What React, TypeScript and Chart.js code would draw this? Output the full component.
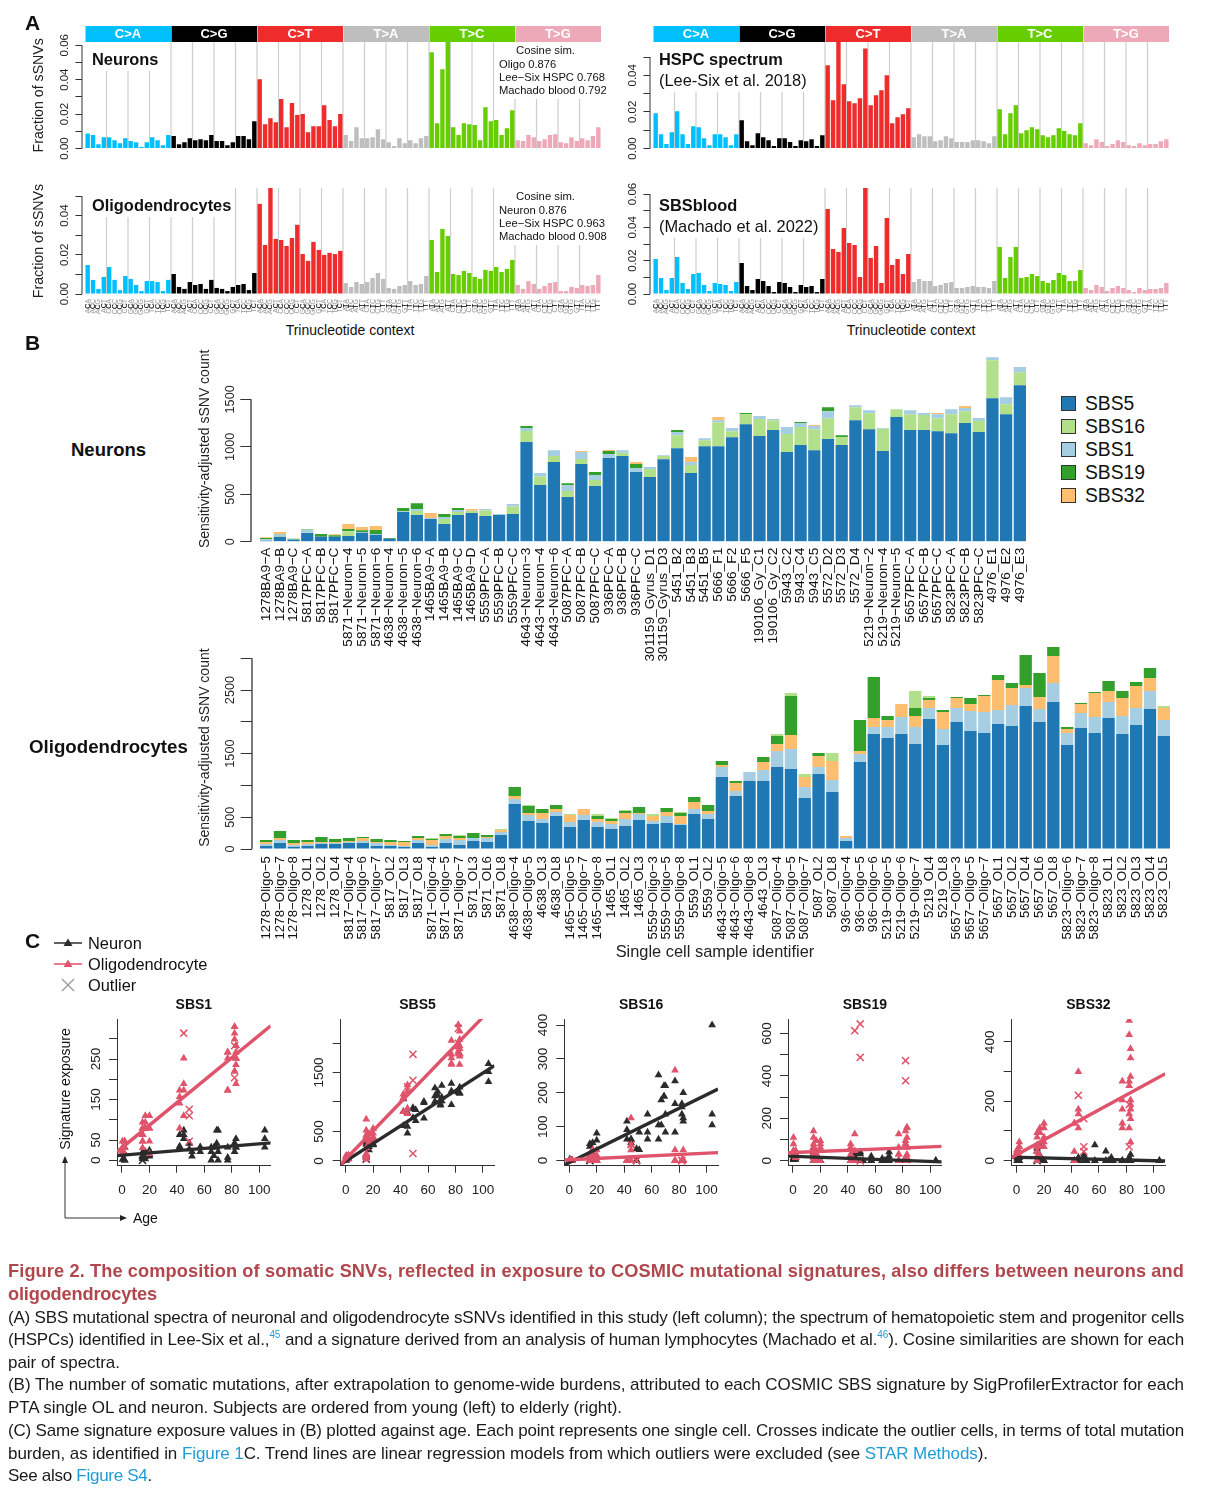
import React, { useEffect, useRef } from 'react';
import { Chart, registerables } from 'chart.js';

Chart.register(...registerables);
const FONT = '"Liberation Sans", Arial, sans-serif';
Chart.defaults.font.family = FONT;
Chart.defaults.color = '#222';

// ---------- Panel A data ----------
const bases = ['A', 'C', 'G', 'T'];
const substitutions = ['C>A', 'C>G', 'C>T', 'T>A', 'T>C', 'T>G'];
const substitutionColors = ['#00BFFF', '#000000', '#EE2C2C', '#BEBEBE', '#66CD00', '#EEA9B8'];
const trinucleotides: string[] = [];
substitutions.forEach((s) => bases.forEach((a) => bases.forEach((b) => trinucleotides.push(a + s[0] + b))));

const neuronSpectrum = [
  .0087, .0078, .0025, .0066, .0066, .0048, .0031, .006, .0043, .0037, .0008, .0037, .0066, .0048, .0019, .0078,
  .0072, .0025, .0037, .006, .0048, .0054, .0048, .0078, .0043, .0043, .0019, .0037, .0072, .0072, .0054, .0159,
  .0403, .0141, .0176, .0153, .0287, .0124, .0264, .0194, .02, .0095, .013, .013, .0252, .0165, .013, .02,
  .0078, .0043, .0124, .006, .006, .0066, .0112, .0054, .0037, .0014, .006, .0031, .0048, .0031, .006, .0072,
  .056, .0147, .0461, .063, .0124, .0078, .0147, .0141, .0136, .0048, .024, .0159, .0165, .0078, .0118, .0223,
  .0048, .0043, .0078, .0066, .0043, .0054, .0078, .0083, .0037, .0031, .0066, .0043, .006, .0048, .0072, .0124,
];
const oligoSpectrum = [
  .0148, .0072, .0026, .0087, .0138, .0072, .002, .0092, .0077, .0046, .0015, .0066, .0066, .0061, .0015, .0072,
  .0102, .0036, .0026, .0061, .0046, .0051, .0026, .0072, .0031, .0026, .0015, .0036, .0046, .0051, .002, .0107,
  .046, .025, .0542, .0281, .0276, .0245, .0286, .0353, .0204, .0169, .0266, .0225, .0199, .021, .0204, .022,
  .0056, .0036, .0061, .0051, .0061, .0082, .0107, .0077, .0031, .0026, .0041, .0046, .0066, .0046, .0051, .0092,
  .0276, .0112, .0332, .0296, .0102, .0097, .0118, .0107, .0087, .0077, .0123, .0118, .0138, .0112, .0128, .0174,
  .0046, .0026, .0066, .0051, .0026, .0041, .0056, .0061, .0015, .0015, .0036, .0031, .0046, .0041, .0046, .0097,
];
const hspcSpectrum = [
  .0193, .0078, .0024, .0089, .0204, .0078, .0024, .0122, .0116, .0056, .0018, .0078, .0078, .0062, .0018, .0078,
  .0155, .004, .0018, .0084, .0062, .0045, .0013, .0056, .0056, .0035, .0013, .0045, .004, .0051, .0013, .0073,
  .0455, .0264, .0582, .0351, .0258, .0247, .0275, .0547, .0236, .0291, .0318, .04, .0138, .0171, .0187, .022,
  .0062, .0078, .0067, .0067, .004, .0045, .0067, .0056, .0035, .0035, .0035, .0045, .0045, .004, .0029, .0067,
  .0215, .0078, .0193, .0236, .0084, .01, .0116, .0105, .0073, .0062, .0073, .0111, .0095, .0078, .0073, .0138,
  .0029, .0018, .0051, .0035, .0013, .0024, .0045, .0035, .0018, .0013, .0029, .0018, .0024, .0024, .004, .0051,
];
const bloodSpectrum = [
  .021, .0096, .0024, .0096, .0222, .0066, .003, .012, .0126, .0054, .0018, .0066, .006, .0054, .0018, .0072,
  .0186, .0048, .0024, .009, .0078, .0048, .0012, .0072, .0066, .0042, .0012, .0054, .0042, .0048, .0012, .009,
  .051, .027, .0252, .0396, .0306, .0294, .0102, .064, .0216, .0288, .0066, .0456, .0174, .021, .012, .024,
  .0072, .009, .0078, .0078, .0048, .0054, .0066, .0072, .0036, .0036, .0042, .0048, .0042, .0042, .0036, .0078,
  .0282, .0096, .0222, .0282, .0096, .0102, .012, .0108, .0078, .0066, .0084, .0126, .0114, .0078, .0078, .0144,
  .0036, .0024, .0054, .0042, .0018, .0036, .0048, .0036, .0024, .0012, .0036, .0024, .003, .003, .0036, .0066,
];

// ---------- Panel B data ----------
const neuronSamples = [
  '1278BA9−A', '1278BA9−B', '1278BA9−C', '5817PFC−A', '5817PFC−B', '5817PFC−C', '5871−Neuron−4', '5871−Neuron−5', '5871−Neuron−6',
  '4638−Neuron−4', '4638−Neuron−5', '4638−Neuron−6', '1465BA9−A', '1465BA9−B', '1465BA9−C', '1465BA9−D', '5559PFC−A', '5559PFC−B', '5559PFC−C',
  '4643−Neuron−3', '4643−Neuron−4', '4643−Neuron−6', '5087PFC−A', '5087PFC−B', '5087PFC−C', '936PFC−A', '936PFC−B', '936PFC−C',
  '301159_Gyrus_D1', '301159_Gyrus_D3', '5451_B2', '5451_B3', '5451_B5', '5666_F1', '5666_F2', '5666_F5', '190106_Gy_C1', '190106_Gy_C2',
  '5943_C2', '5943_C4', '5943_C5', '5572_D2', '5572_D3', '5572_D4', '5219−Neuron−2', '5219−Neuron−4', '5219−Neuron−5',
  '5657PFC−A', '5657PFC−B', '5657PFC−C', '5823PFC−A', '5823PFC−B', '5823PFC−C', '4976_E1', '4976_E2', '4976_E3',
];
const neuronAges = [
  .4, .4, .4, 2, 2, 2, 15, 15, 15, 15, 15, 15, 17, 17, 17, 17, 20, 20, 20, 42, 42, 42, 45, 45, 45, 49, 49, 49, 51, 51,
  57, 57, 57, 65, 65, 65, 67, 67, 69, 69, 69, 70, 70, 70, 77, 77, 77, 82, 82, 82, 83, 83, 83, 104, 104, 104,
];
const neuronSBS5 = [10, 52, 20, 92, 52, 52, 60, 95, 73, 32, 312, 281, 240, 186, 281, 302, 270, 281, 291, 1050, 597, 839, 470, 818, 586, 881, 902, 734, 681, 870, 986, 723, 1007, 1007, 1102, 1239, 1113, 1176, 944, 1018, 965, 1081, 1018, 1281, 1186, 955, 1313, 1176, 1176, 1165, 1144, 1250, 1155, 1513, 1344, 1650];
const neuronSBS16 = [0, 5, 0, 2, 0, 0, 50, 0, 0, 0, 0, 42, 0, 53, 32, 21, 60, 0, 81, 116, 91, 63, 63, 53, 63, 0, 35, 0, 84, 32, 137, 84, 63, 253, 63, 105, 179, 105, 190, 190, 221, 221, 84, 137, 168, 235, 84, 168, 158, 137, 200, 126, 116, 400, 105, 137];
const neuronSBS1 = [15, 20, 2, 32, 0, 0, 4, 8, 8, 0, 10, 20, 10, 20, 21, 3, 14, 10, 25, 32, 35, 63, 63, 74, 53, 42, 28, 42, 21, 10, 32, 32, 21, 21, 32, 0, 32, 11, 74, 42, 32, 74, 0, 21, 32, 7, 0, 42, 21, 42, 53, 32, 32, 32, 74, 53];
const neuronSBS19 = [15, 5, 10, 6, 30, 17, 20, 18, 42, 8, 32, 63, 0, 32, 21, 0, 0, 0, 0, 21, 0, 0, 21, 0, 32, 32, 0, 42, 0, 0, 21, 0, 0, 0, 0, 11, 0, 0, 0, 11, 0, 42, 21, 0, 0, 0, 0, 0, 0, 0, 0, 0, 0, 0, 0, 0];
const neuronSBS32 = [8, 20, 0, 0, 0, 10, 52, 33, 42, 0, 0, 0, 53, 0, 0, 18, 0, 0, 0, 0, 0, 0, 0, 11, 0, 11, 0, 21, 0, 0, 0, 53, 0, 32, 0, 0, 0, 0, 0, 0, 11, 0, 0, 0, 0, 0, 0, 0, 0, 11, 0, 21, 0, 0, 0, 0];

const oligoSamples = [
  '1278−Oligo−5', '1278−Oligo−7', '1278−Oligo−8', '1278_OL1', '1278_OL2', '1278_OL4', '5817−Oligo−4', '5817−Oligo−6', '5817−Oligo−7', '5817_OL2', '5817_OL3', '5817_OL8',
  '5871−Oligo−4', '5871−Oligo−5', '5871−Oligo−7', '5871_OL3', '5871_OL6', '5871_OL8', '4638−Oligo−4', '4638−Oligo−5', '4638_OL3', '4638_OL8',
  '1465−Oligo−5', '1465−Oligo−7', '1465−Oligo−8', '1465_OL1', '1465_OL2', '1465_OL3', '5559−Oligo−3', '5559−Oligo−5', '5559−Oligo−8', '5559_OL1', '5559_OL2',
  '4643−Oligo−5', '4643−Oligo−6', '4643−Oligo−8', '4643_OL3', '5087−Oligo−4', '5087−Oligo−5', '5087−Oligo−7', '5087_OL2', '5087_OL8', '936−Oligo−4', '936−Oligo−5', '936−Oligo−6',
  '5219−Oligo−5', '5219−Oligo−6', '5219−Oligo−7', '5219_OL4', '5219_OL8', '5657−Oligo−3', '5657−Oligo−5', '5657−Oligo−7', '5657_OL1', '5657_OL2', '5657_OL4', '5657_OL6', '5657_OL8',
  '5823−Oligo−6', '5823−Oligo−7', '5823−Oligo−8', '5823_OL1', '5823_OL2', '5823_OL3', '5823_OL4', '5823_OL5',
];
const oligoAges = [
  .4, .4, .4, .4, .4, .4, 2, 2, 2, 2, 2, 2, 15, 15, 15, 15, 15, 15, 15, 15, 15, 15, 17, 17, 17, 17, 17, 17, 20, 20, 20, 20, 20,
  42, 42, 42, 42, 45, 45, 45, 45, 45, 49, 49, 49, 77, 77, 77, 77, 77, 82, 82, 82, 82, 82, 82, 82, 82, 83, 83, 83, 83, 83, 83, 83, 83,
];
const oligoSBS5 = [47, 94, 37, 47, 79, 79, 94, 94, 47, 47, 31, 94, 31, 94, 63, 126, 110, 220, 707, 440, 409, 519, 346, 456, 346, 314, 362, 456, 393, 409, 377, 550, 472, 1132, 833, 1069, 1069, 1289, 1258, 802, 1179, 896, 126, 1368, 1808, 1745, 1808, 1651, 2044, 1635, 1996, 1855, 1824, 1965, 1933, 2248, 1996, 2311, 1635, 1902, 1824, 2059, 1808, 1949, 2201, 1776];
const oligoSBS1 = [31, 47, 21, 31, 16, 16, 16, 31, 47, 16, 16, 47, 31, 63, 79, 47, 63, 47, 79, 94, 63, 63, 79, 79, 79, 79, 110, 94, 47, 110, 16, 79, 79, 157, 79, 141, 173, 252, 314, 173, 110, 189, 47, 126, 110, 173, 267, 267, 173, 252, 220, 314, 330, 220, 330, 283, 204, 299, 189, 236, 252, 252, 283, 267, 283, 252];
const oligoSBS32 = [31, 31, 37, 31, 16, 16, 16, 47, 16, 47, 63, 31, 79, 47, 31, 0, 16, 31, 47, 31, 94, 47, 110, 94, 47, 47, 94, 16, 79, 63, 126, 110, 47, 31, 126, 0, 126, 110, 220, 157, 173, 299, 31, 47, 141, 110, 204, 173, 126, 267, 157, 110, 252, 472, 267, 47, 189, 424, 63, 141, 377, 173, 283, 346, 204, 189];
const oligoSBS19 = [31, 110, 47, 31, 79, 47, 47, 16, 47, 31, 16, 31, 16, 31, 31, 79, 31, 0, 141, 110, 63, 63, 0, 0, 47, 31, 31, 94, 0, 63, 47, 79, 94, 63, 31, 0, 79, 126, 613, 0, 47, 0, 0, 487, 645, 63, 0, 126, 31, 31, 16, 94, 16, 79, 79, 472, 377, 141, 31, 16, 16, 157, 110, 63, 157, 0];
const oligoSBS16 = [0, 0, 0, 0, 0, 0, 0, 0, 0, 0, 0, 0, 16, 0, 16, 0, 0, 16, 0, 16, 0, 0, 16, 0, 31, 16, 16, 0, 31, 0, 16, 0, 0, 0, 0, 0, 0, 31, 47, 47, 0, 126, 0, 0, 0, 0, 0, 267, 31, 0, 0, 0, 0, 0, 0, 0, 0, 0, 0, 0, 0, 0, 0, 0, 0, 31];

const neuronOutliers = ['4638−Neuron−4'];
const oligoOutliers = ['5087−Oligo−5', '936−Oligo−4', '936−Oligo−5', '936−Oligo−6', '5657_OL4', '5657_OL6'];

const sigColors: Record<string, string> = { SBS5: '#1f78b4', SBS16: '#b2df8a', SBS1: '#a6cee3', SBS19: '#33a02c', SBS32: '#fdbf6f' };
const legendSignatures = ['SBS5', 'SBS16', 'SBS1', 'SBS19', 'SBS32'];

// ---------- Panel C data ----------
const ageTicks = [0, 20, 40, 60, 80, 100];
const trendXRange = [-3.6, 108.3];
const trendNeuron: Record<string, number[]> = { SBS1: [11.5, 43], SBS5: [-56, 1616], SBS16: [-13, 211], SBS19: [22, -5], SBS32: [12, -1] };
const trendOligo: Record<string, number[]> = { SBS1: [21, 332], SBS5: [-56, 2640], SBS16: [2, 23.6], SBS19: [38, 68], SBS32: [11, 293] };

const AXIS = '#333';
const measureCtx = document.createElement('canvas').getContext('2d')!;
function widthOf(text: string, size: number) {
  measureCtx.font = `${size}px ${FONT}`;
  return measureCtx.measureText(text).width;
}

function rY(o: any) {
  const fmt = o.fmt || String;
  const widest = Math.max(...o.labelled.map((v: number) => widthOf(fmt(v), o.fontSize)));
  return {
    type: 'linear', position: 'left', min: o.min ?? 0, max: o.max,
    afterBuildTicks: (s: any) => { s.ticks = o.tickValues.map((value: number) => ({ value })); },
    afterFit: (s: any) => { s.width = o.axisWidth; s.paddingTop = 0; s.paddingBottom = 0; },
    ticks: {
      autoSkip: false, minRotation: 90, maxRotation: 90, crossAlign: 'center', color: '#222',
      padding: o.labelDist - o.tickLen - widest / 2, font: { size: o.fontSize },
      callback: (v: number) => (o.labelled.includes(v) ? fmt(v) : ''),
    },
    grid: { drawOnChartArea: false, drawTicks: true, tickLength: o.tickLen, color: AXIS },
    border: o.border ? { display: true, color: AXIS, width: 1 } : { display: false },
    title: o.title ? { display: true, text: o.title, padding: 0, color: '#222', font: { size: o.titleSize } } : { display: false },
  };
}

// R-style axis: y axis pulled left of the bars, line only from first to last tick
const rAxisPlugin = {
  id: 'rAxis',
  afterLayout(chart: any, _a: any, opts: any) { if (opts.gap) chart.scales.y.right -= opts.gap; },
  afterDraw(chart: any, _a: any, opts: any) {
    if (!opts.gap) return;
    const y = chart.scales.y;
    const vals = y.ticks.map((t: any) => y.getPixelForValue(t.value));
    const ctx = chart.ctx;
    ctx.save();
    ctx.strokeStyle = AXIS;
    ctx.lineWidth = opts.lineWidth || 1;
    ctx.beginPath();
    ctx.moveTo(Math.round(y.right) + .0, Math.min(...vals));
    ctx.lineTo(Math.round(y.right) + .0, Math.max(...vals));
    ctx.stroke();
    ctx.restore();
  },
};

const spectrumPlugin = {
  id: 'spectrum',
  beforeDatasetsDraw(chart: any, _a: any, opts: any) {
    const { ctx, scales: { x }, chartArea: area } = chart;
    ctx.save();
    ctx.strokeStyle = '#cdcdcd';
    ctx.lineWidth = 1.2;
    for (let i = 4; i < 96; i += 4) {
      const px = x.getPixelForValue(i - .5);
      ctx.beginPath();
      ctx.moveTo(px, area.top);
      ctx.lineTo(px, area.bottom);
      ctx.stroke();
    }
    ctx.fillStyle = '#fff';
    (opts.masks || []).forEach((m: number[]) => ctx.fillRect(m[0] - opts.originX, m[1] - opts.originY, m[2] - m[0], m[3] - m[1]));
    ctx.restore();
  },
  afterDraw(chart: any, _a: any, opts: any) {
    const { ctx, scales: { x } } = chart;
    ctx.save();
    if (opts.bandY) {
      substitutions.forEach((name, i) => {
        const x0 = x.getPixelForValue(i * 16 - .5);
        const x1 = x.getPixelForValue(i * 16 + 15.5);
        ctx.fillStyle = substitutionColors[i];
        ctx.fillRect(x0 + .5, opts.bandY[0] - opts.originY, x1 - x0 - .5, opts.bandY[1] - opts.bandY[0]);
        ctx.fillStyle = '#fff';
        ctx.font = `bold 13px ${FONT}`;
        ctx.textAlign = 'center';
        ctx.textBaseline = 'middle';
        ctx.fillText(name, (x0 + x1) / 2, (opts.bandY[0] + opts.bandY[1]) / 2 - opts.originY + .5);
      });
    }
    if (opts.showLabels) {
      // central base of each trinucleotide in black, over the grey tick label
      ctx.font = `${opts.labelSize}px ${FONT}`;
      ctx.textAlign = 'right';
      ctx.textBaseline = 'middle';
      ctx.fillStyle = '#111';
      x.ticks.forEach((t: any, i: number) => {
        const lab = trinucleotides[i];
        ctx.save();
        ctx.translate(x.getPixelForValue(i), x.top + opts.labelPad);
        ctx.rotate(-Math.PI / 2);
        ctx.fillText(lab[1], -ctx.measureText(lab[2]).width, 0);
        ctx.restore();
      });
    }
    ctx.restore();
  },
};

function spectrumConfig(o: any) {
  const labelSize = 7;
  const labelPad = 5;
  return {
    type: 'bar',
    data: {
      labels: trinucleotides,
      datasets: [{
        data: o.values,
        backgroundColor: trinucleotides.map((_, i) => substitutionColors[Math.floor(i / 16)]),
        barPercentage: .82, categoryPercentage: 1,
      }],
    },
    plugins: [rAxisPlugin, spectrumPlugin],
    options: {
      animation: false, responsive: false, devicePixelRatio: 1,
      layout: { padding: { top: o.areaTop - o.top, right: o.left + o.width - o.areaRight, left: 0, bottom: 0 } },
      plugins: {
        legend: { display: false }, tooltip: { enabled: false },
        rAxis: { gap: 3.5 },
        spectrum: { masks: o.masks, originX: o.left, originY: o.top, bandY: o.bandY, showLabels: o.showLabels, labelSize, labelPad },
      },
      scales: {
        x: {
          type: 'category', offset: true,
          afterFit: (s: any) => { s.height = o.top + o.height - o.areaBottom; s.paddingLeft = 0; s.paddingRight = 0; },
          grid: { display: false, drawTicks: false }, border: { display: false },
          ticks: {
            display: !!o.showLabels, autoSkip: false, minRotation: 90, maxRotation: 90,
            padding: labelPad, color: '#9a9a9a', font: { size: labelSize },
          },
        },
        y: rY({
          max: o.max, tickValues: o.ticks, labelled: o.labelled, fmt: (v: number) => v.toFixed(2), fontSize: 11.5,
          tickLen: 6, labelDist: 17, axisWidth: o.areaLeft - o.left, title: o.title, titleSize: 14.2,
        }),
      },
    },
  };
}

function stackedConfig(o: any) {
  return {
    type: 'bar',
    data: {
      labels: o.labels,
      datasets: o.series.map((s: any) => ({
        label: s.name, data: s.values, backgroundColor: sigColors[s.name], barPercentage: .895, categoryPercentage: 1,
      })),
    },
    plugins: [rAxisPlugin],
    options: {
      animation: false, responsive: false, devicePixelRatio: 1,
      layout: { padding: { top: o.areaTop - o.top, right: o.left + o.width - o.areaRight, left: 0, bottom: 0 } },
      plugins: { legend: { display: false }, tooltip: { enabled: false }, rAxis: { gap: o.gap, lineWidth: 1.3 } },
      scales: {
        x: {
          type: 'category', offset: true, stacked: true,
          afterFit: (s: any) => { s.height = o.top + o.height - o.areaBottom; s.paddingLeft = 0; s.paddingRight = 0; },
          grid: { display: false, drawTicks: false }, border: { display: false },
          ticks: { autoSkip: false, minRotation: 90, maxRotation: 90, padding: o.labelPad, color: '#111', font: { size: o.labelSize } },
          title: o.xTitle ? { display: true, text: o.xTitle, padding: 0, color: '#222', font: { size: 16.4 } } : { display: false },
        },
        y: {
          ...rY({
            max: o.max, tickValues: o.ticks, labelled: o.labelled, fontSize: 12.7, tickLen: 11, labelDist: 21,
            axisWidth: o.areaLeft - o.left, title: 'Sensitivity-adjusted sSNV count', titleSize: 14,
          }),
          stacked: true,
        },
      },
    },
  };
}

function pick(ages: number[], vals: number[], samples: string[], outliers: string[], wantOutlier: boolean) {
  const out: { x: number; y: number }[] = [];
  samples.forEach((s, i) => {
    if (outliers.includes(s) === wantOutlier) out.push({ x: ages[i], y: vals[i] });
  });
  return out;
}

const NEURON = '#2b2b2b';
const OLIGO = '#df536b';

function scatterConfig(o: any) {
  const nVals = o.neuronValues;
  const oVals = o.oligoValues;
  const tri = (data: any, color: string) => ({ data, pointStyle: 'triangle', pointRadius: 4.5, pointBackgroundColor: color, pointBorderWidth: 0, showLine: false });
  const cross = (data: any, color: string) => ({ data, pointStyle: 'crossRot', pointRadius: 5, pointBorderColor: color, pointBorderWidth: 1.5, showLine: false });
  const trend = (ys: number[], color: string) => ({
    data: [{ x: trendXRange[0], y: ys[0] }, { x: trendXRange[1], y: ys[1] }],
    showLine: true, borderColor: color, borderWidth: 3.4, pointRadius: 0,
  });
  return {
    type: 'scatter',
    data: {
      datasets: [
        trend(trendOligo[o.name], OLIGO),
        trend(trendNeuron[o.name], NEURON),
        cross(pick(oligoAges, oVals, oligoSamples, oligoOutliers, true), OLIGO),
        tri(pick(oligoAges, oVals, oligoSamples, oligoOutliers, false), OLIGO),
        cross(pick(neuronAges, nVals, neuronSamples, neuronOutliers, true), NEURON),
        tri(pick(neuronAges, nVals, neuronSamples, neuronOutliers, false), NEURON),
      ],
    },
    options: {
      animation: false, responsive: false, devicePixelRatio: 1,
      layout: { padding: { top: 0, right: o.left + o.width - o.areaRight, left: 0, bottom: 0 } },
      plugins: {
        legend: { display: false }, tooltip: { enabled: false },
        title: {
          display: true, text: o.name, fullSize: false, color: '#111',
          font: { size: 14, weight: 'bold', lineHeight: 1.2 }, padding: { top: 1.6, bottom: 5.6 },
        },
      },
      scales: {
        x: {
          type: 'linear', min: trendXRange[0], max: trendXRange[1],
          afterBuildTicks: (s: any) => { s.ticks = ageTicks.map((value) => ({ value })); },
          afterFit: (s: any) => { s.height = o.top + o.height - o.areaBottom; s.paddingLeft = 0; s.paddingRight = 0; },
          grid: { drawOnChartArea: false, drawTicks: true, tickLength: 7, color: AXIS },
          border: { display: true, color: AXIS, width: 1 },
          ticks: { autoSkip: false, maxRotation: 0, padding: 9, color: '#222', font: { size: 13.5 }, callback: (v: number) => String(v) },
        },
        y: rY({
          min: o.min, max: o.max, tickValues: o.ticks, labelled: o.labelled, fontSize: 13.5, tickLen: 8, labelDist: 21,
          axisWidth: o.areaLeft - o.left, border: true,
        }),
      },
    },
  };
}

function ChartBox({ left, top, width, height, make }: any) {
  const ref = useRef<HTMLCanvasElement>(null);
  useEffect(() => {
    const c = new Chart(ref.current as any, make() as any);
    return () => c.destroy();
  }, []);
  return <canvas ref={ref} width={width} height={height} style={{ position: 'absolute', left, top, width, height, display: 'block' }} />;
}

function T({ x, y, size, bold, color, children, center, rotate }: any) {
  return (
    <div style={{
      position: 'absolute', left: x, top: y, fontSize: size, fontWeight: bold ? 700 : 400, color: color || '#111', whiteSpace: 'nowrap', lineHeight: 1,
      transform: `translate(${center ? '-50%' : '0'}, -50%)${rotate ? ` rotate(${rotate}deg)` : ''}`,
    }}>{children}</div>
  );
}

// A caption line whose letter spacing is set so it ends where the reference's line ends
function Line({ x, y, size, end, bold, color, children }: any) {
  const fit = (el: HTMLDivElement | null) => {
    if (!el) return;
    el.style.letterSpacing = '0px';
    const w = el.getBoundingClientRect().width;
    const n = (el.textContent || '').length;
    el.style.letterSpacing = `${(end - x - w) / n}px`;
  };
  return (
    <div ref={fit} style={{
      position: 'absolute', left: x, top: y, fontSize: size, fontWeight: bold ? 700 : 400, color: color || '#1a1a1a',
      whiteSpace: 'nowrap', lineHeight: 1, display: 'inline-block', transform: 'translateY(-50%)',
    }}>{children}</div>
  );
}

const LINK = '#1f9bd7';
const Sup = ({ children }: any) => <sup style={{ fontSize: 10, lineHeight: 0, color: LINK }}>{children}</sup>;
const Link = ({ children }: any) => <span style={{ color: LINK }}>{children}</span>;

const panelCLeft = [117, 340.7, 564.3, 788, 1011.6];
const panelCSpecs = [
  { name: 'SBS1', neuronValues: neuronSBS1, oligoValues: oligoSBS1, min: -13.3, max: 349, ticks: [0, 50, 100, 150, 200, 250, 300], labelled: [0, 50, 150, 250] },
  { name: 'SBS5', neuronValues: neuronSBS5, oligoValues: oligoSBS5, min: -80, max: 2407, ticks: [0, 500, 1000, 1500, 2000], labelled: [0, 500, 1500] },
  { name: 'SBS16', neuronValues: neuronSBS16, oligoValues: oligoSBS16, min: -15, max: 418, ticks: [0, 100, 200, 300, 400], labelled: [0, 100, 200, 300, 400] },
  { name: 'SBS19', neuronValues: neuronSBS19, oligoValues: oligoSBS19, min: -23, max: 668, ticks: [0, 100, 200, 300, 400, 500, 600], labelled: [0, 200, 400, 600] },
  { name: 'SBS32', neuronValues: neuronSBS32, oligoValues: oligoSBS32, min: -17, max: 477, ticks: [0, 100, 200, 300, 400], labelled: [0, 200, 400] },
];

const spectra = [
  { key: 'a1', values: neuronSpectrum, left: 31, top: 20, width: 574, height: 150, areaLeft: 85, areaRight: 601, areaTop: 42, areaBottom: 148.5, max: .0619, ticks: [0, .01, .02, .03, .04, .05, .06], labelled: [0, .02, .04, .06], title: 'Fraction of sSNVs', bandY: [26, 42], masks: [[85, 42, 165, 71], [500, 42, 601, 99]] },
  { key: 'a2', values: oligoSpectrum, left: 31, top: 180, width: 574, height: 138, areaLeft: 85, areaRight: 601, areaTop: 188, areaBottom: 294, max: .0541, ticks: [0, .01, .02, .03, .04, .05], labelled: [0, .02, .04], title: 'Fraction of sSNVs', showLabels: true, masks: [[85, 188, 228, 217], [500, 188, 601, 245]] },
  { key: 'a3', values: hspcSpectrum, left: 620, top: 20, width: 553, height: 150, areaLeft: 653, areaRight: 1169, areaTop: 42, areaBottom: 148.5, max: .0582, ticks: [0, .01, .02, .03, .04, .05], labelled: [0, .02, .04], bandY: [26, 42], masks: [[653, 42, 815, 92]] },
  { key: 'a4', values: bloodSpectrum, left: 620, top: 180, width: 553, height: 138, areaLeft: 653, areaRight: 1169, areaTop: 188, areaBottom: 294, max: .0636, ticks: [0, .01, .02, .03, .04, .05, .06], labelled: [0, .02, .04, .06], showLabels: true, masks: [[653, 188, 815, 238]] },
];

export default function App() {
  return (
    <div style={{ position: 'absolute', left: 0, top: 0, width: 1205, height: 1506, background: '#fff', overflow: 'hidden', fontFamily: FONT }}>
      {spectra.map((s) => <ChartBox key={s.key} left={s.left} top={s.top} width={s.width} height={s.height} make={() => spectrumConfig(s)} />)}

      <ChartBox left={197} top={345} width={833} height={325} make={() => stackedConfig({
        left: 197, top: 345, width: 833, height: 325, areaLeft: 259.3, areaRight: 1026.7, areaTop: 356, areaBottom: 541.7, gap: 8,
        labelSize: 13.7, labelPad: 6,
        labels: neuronSamples, max: 1957, ticks: [0, 500, 1000, 1500], labelled: [0, 500, 1000, 1500],
        series: [
          { name: 'SBS5', values: neuronSBS5 }, { name: 'SBS16', values: neuronSBS16 }, { name: 'SBS1', values: neuronSBS1 },
          { name: 'SBS19', values: neuronSBS19 }, { name: 'SBS32', values: neuronSBS32 },
        ],
      })} />
      <ChartBox left={197} top={640} width={978} height={322} make={() => stackedConfig({
        left: 197, top: 640, width: 978, height: 322, areaLeft: 259.26, areaRight: 1170.7, areaTop: 646.2, areaBottom: 849, gap: 7.6,
        labelSize: 13.3, labelPad: 7,
        labels: oligoSamples, max: 3189, ticks: [0, 500, 1000, 1500, 2000, 2500, 3000], labelled: [0, 500, 1500, 2500],
        xTitle: 'Single cell sample identifier',
        series: [
          { name: 'SBS5', values: oligoSBS5 }, { name: 'SBS1', values: oligoSBS1 }, { name: 'SBS32', values: oligoSBS32 },
          { name: 'SBS19', values: oligoSBS19 }, { name: 'SBS16', values: oligoSBS16 },
        ],
      })} />

      {panelCSpecs.map((p, i) => {
        const areaLeft = panelCLeft[i];
        const left = Math.round(areaLeft - 60);
        return <ChartBox key={p.name} left={left} top={995} width={222} height={205} make={() => scatterConfig({
          ...p, left, top: 995, width: 222, height: 205, areaLeft, areaRight: areaLeft + 153.7, areaBottom: 1165.7,
        })} />;
      })}

      {/* panel letters */}
      <T x={25} y={22} size={21} bold>A</T>
      <T x={25} y={342} size={21} bold>B</T>
      <T x={25} y={940} size={21} bold>C</T>

      {/* panel A text */}
      <T x={92} y={59} size={16.4} bold>Neurons</T>
      <T x={92} y={205} size={16.4} bold>Oligodendrocytes</T>
      <T x={659} y={59} size={16.4} bold>HSPC spectrum</T>
      <T x={659} y={80} size={16.4}>(Lee-Six et al. 2018)</T>
      <T x={659} y={205} size={16.4} bold>SBSblood</T>
      <T x={659} y={226} size={16.4}>(Machado et al. 2022)</T>
      <T x={516} y={51} size={11.3}>Cosine sim.</T>
      <T x={499} y={65} size={11.2}>Oligo 0.876</T>
      <T x={499} y={78} size={11.2}>Lee−Six HSPC 0.768</T>
      <T x={499} y={91} size={11.2}>Machado blood 0.792</T>
      <T x={516} y={197} size={11.3}>Cosine sim.</T>
      <T x={499} y={210.5} size={11.2}>Neuron 0.876</T>
      <T x={499} y={224} size={11.2}>Lee−Six HSPC 0.963</T>
      <T x={499} y={237} size={11.2}>Machado blood 0.908</T>
      <T x={350} y={330} size={14} center>Trinucleotide context</T>
      <T x={911} y={330} size={14} center>Trinucleotide context</T>

      {/* panel B text and legend */}
      <T x={71} y={450} size={18.5} bold>Neurons</T>
      <T x={29} y={747} size={18.7} bold>Oligodendrocytes</T>
      {legendSignatures.map((name, i) => {
        const cy = 403 + i * 23.1;
        return (
          <React.Fragment key={name}>
            <div style={{ position: 'absolute', left: 1061, top: cy - 7, width: 13, height: 13, background: sigColors[name], border: '1px solid #333' }} />
            <T x={1085} y={cy + .5} size={19.3}>{name}</T>
          </React.Fragment>
        );
      })}

      {/* panel C legend and axis guide */}
      <svg width={1205} height={1506} style={{ position: 'absolute', left: 0, top: 0, pointerEvents: 'none' }}>
        <line x1={54} x2={82} y1={943} y2={943} stroke={NEURON} strokeWidth={1.5} />
        <polygon points="68,938.5 72.5,946 63.5,946" fill={NEURON} />
        <line x1={54} x2={82} y1={964} y2={964} stroke={OLIGO} strokeWidth={1.5} />
        <polygon points="68,959.5 72.5,967 63.5,967" fill={OLIGO} />
        <path d="M62,979 L74,991 M74,979 L62,991" stroke="#9a9a9a" strokeWidth={1.4} fill="none" />
        <path d="M65,1161 L65,1218 L125,1218" stroke="#333" strokeWidth={1} fill="none" />
        <polygon points="65,1156 68,1163 62,1163" fill="#222" />
        <polygon points="127,1218 120,1215 120,1221" fill="#222" />
      </svg>
      <T x={88} y={943} size={16.4}>Neuron</T>
      <T x={88} y={964} size={16.4}>Oligodendrocyte</T>
      <T x={88} y={985} size={16.4}>Outlier</T>
      <T x={133} y={1218} size={14}>Age</T>
      <T x={65} y={1088.5} size={14} center rotate={-90}>Signature exposure</T>

      {/* caption */}
      <Line x={8} y={1271} size={18.2} bold color="#b0474d" end={1184}>Figure 2. The composition of somatic SNVs, reflected in exposure to COSMIC mutational signatures, also differs between neurons and</Line>
      <Line x={8} y={1293.5} size={18.2} bold color="#b0474d" end={157}>oligodendrocytes</Line>
      <Line x={8} y={1316.5} size={17} end={1184}>(A) SBS mutational spectra of neuronal and oligodendrocyte sSNVs identified in this study (left column); the spectrum of hematopoietic stem and progenitor cells</Line>
      <Line x={8} y={1339} size={17} end={1184}>(HSPCs) identified in Lee-Six et al.,<Sup>45</Sup> and a signature derived from an analysis of human lymphocytes (Machado et al.<Sup>46</Sup>). Cosine similarities are shown for each</Line>
      <Line x={8} y={1361.5} size={17} end={120}>pair of spectra.</Line>
      <Line x={8} y={1384} size={17} end={1184}>(B) The number of somatic mutations, after extrapolation to genome-wide burdens, attributed to each COSMIC SBS signature by SigProfilerExtractor for each</Line>
      <Line x={8} y={1407} size={17} end={622}>PTA single OL and neuron. Subjects are ordered from young (left) to elderly (right).</Line>
      <Line x={8} y={1430} size={17} end={1184}>(C) Same signature exposure values in (B) plotted against age. Each point represents one single cell. Crosses indicate the outlier cells, in terms of total mutation</Line>
      <Line x={8} y={1453} size={17} end={988}>burden, as identified in <Link>Figure 1</Link>C. Trend lines are linear regression models from which outliers were excluded (see <Link>STAR Methods</Link>).</Line>
      <Line x={8} y={1475} size={17} end={152}>See also <Link>Figure S4</Link>.</Line>
    </div>
  );
}
